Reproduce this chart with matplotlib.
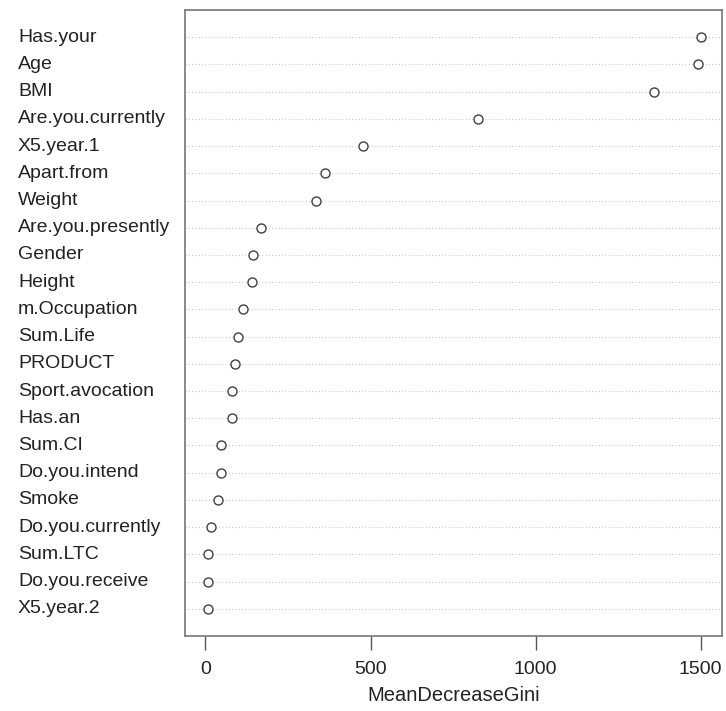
import matplotlib
matplotlib.use("Agg")
import matplotlib.pyplot as plt
import matplotlib.transforms as mtransforms

labels = ["Has.your", "Age", "BMI", "Are.you.currently", "X5.year.1", "Apart.from",
          "Weight", "Are.you.presently", "Gender", "Height", "m.Occupation",
          "Sum.Life", "PRODUCT", "Sport.avocation", "Has.an", "Sum.CI",
          "Do.you.intend", "Smoke", "Do.you.currently", "Sum.LTC",
          "Do.you.receive", "X5.year.2"]
values = [1501, 1493, 1359, 826, 477, 361, 335, 167, 145, 141, 114, 99, 89,
          81, 81, 48, 48, 38, 17, 9, 9, 9]
xticks = [0, 500, 1000, 1500]
xlabel = "MeanDecreaseGini"

plt.rcParams['font.family'] = ['Liberation Sans', 'DejaVu Sans']

fig = plt.figure(figsize=(7.26, 7.11), dpi=100)
ax = fig.add_axes([185/726, 1-636/711, (721.5-185)/726, (636-10)/711])

n = len(labels)
ys = [n - i for i in range(n)]
for y in ys:
    ax.axhline(y, color='#c8c8c8', lw=0.8, ls=(0, (1, 2)), zorder=1)
ax.plot(values, ys, 'o', ms=6.5, mfc='white', mec='#404040', mew=1.0, ls='none', zorder=3)

ax.set_xlim(-62, 1563)
ax.set_ylim(0, n + 1)
ax.set_yticks([])
ax.set_xticks(xticks)
ax.set_xticklabels([str(t) for t in xticks], fontsize=14, color='#222222')
ax.tick_params(axis='x', length=10, width=1, color='#555555', pad=8)
for s in ax.spines.values():
    s.set_color('#777777')
    s.set_linewidth(1.2)
ax.set_xlabel(xlabel, fontsize=14.5, color='#222222', labelpad=6)

trans = mtransforms.blended_transform_factory(fig.transFigure, ax.transData)
for lab, y in zip(labels, ys):
    ax.text(18/726, y, lab, transform=trans, ha='left', va='center', fontsize=14,
            color='#222222', clip_on=False)

fig.savefig("out.png", dpi=100)
